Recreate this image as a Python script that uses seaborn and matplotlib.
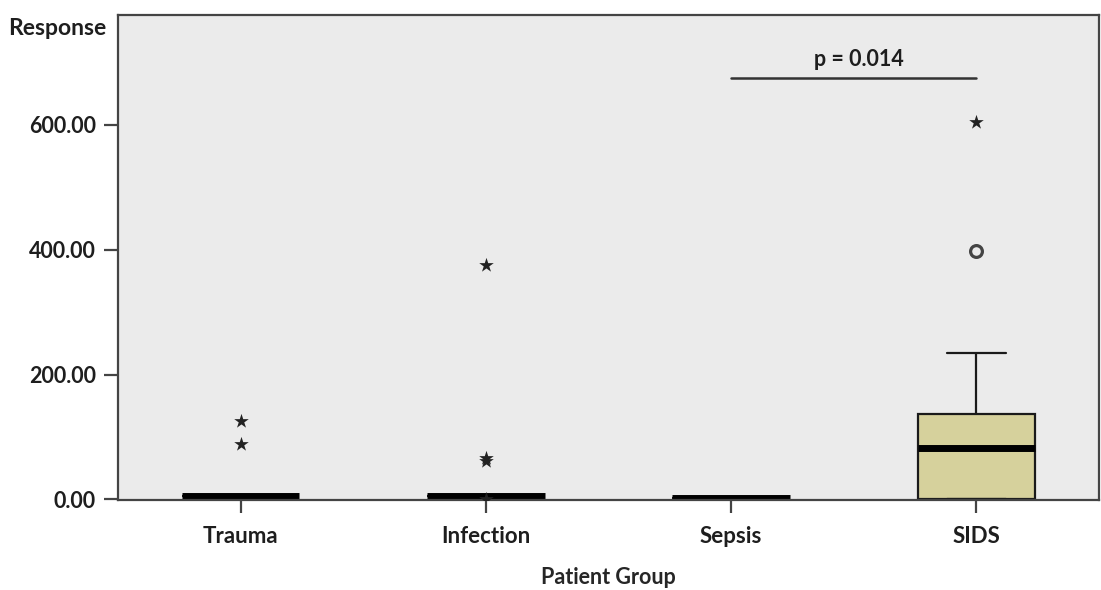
import numpy as np
import pandas as pd
import seaborn as sns
import matplotlib.pyplot as plt

# values, one list per patient group
groups = ["Trauma", "Infection", "Sepsis", "SIDS"]
trauma = [6, 6, 6, 6, 6, 6, 6, 6, 6, 6, 88, 126]
infection = [6, 6, 6, 6, 6, 6, 6, 6, 6, 6, 0, 61, 67, 376]
sepsis = [3, 3, 3, 3, 3, 3, 3, 3, 3, 3]
sids = [0, 0, 0, 0, 40, 70, 82, 100, 120, 136, 234, 398, 605]
p_text = "p = 0.014"
y_ticks = [0, 200, 400, 600]

values = {"Trauma": trauma, "Infection": infection, "Sepsis": sepsis, "SIDS": sids}
df = pd.DataFrame(
    [(g, v) for g in groups for v in values[g]], columns=["group", "value"]
)

# SPSS style: circles beyond 1.5 IQR, stars beyond 3 IQR
rows = []
for g in groups:
    v = np.array(values[g], dtype=float)
    q1, q3 = np.percentile(v, [25, 75])
    iqr = q3 - q1
    for x in v:
        if x > q3 + 3 * iqr or x < q1 - 3 * iqr:
            rows.append((g, x, "extreme"))
        elif x > q3 + 1.5 * iqr or x < q1 - 1.5 * iqr:
            rows.append((g, x, "outlier"))
out = pd.DataFrame(rows, columns=["group", "value", "kind"])

sns.set_style("white")
plt.rcParams["font.family"] = ["Lato", "DejaVu Sans"]
plt.rcParams["font.weight"] = "bold"
plt.rcParams["text.color"] = "#1e1e1e"

fig = plt.figure(figsize=(11.01, 5.90), dpi=100)
ax = fig.add_axes([118 / 1101, 90 / 590, 981 / 1101, 485 / 590])
ax.set_facecolor("#ebebeb")

sns.boxplot(
    data=df, x="group", y="value", order=groups, ax=ax,
    width=0.48, showfliers=False, color="#d6d19c", saturation=1,
    linecolor="#1a1a1a", linewidth=1.6,
    medianprops=dict(linewidth=5, color="black"),
)

sns.stripplot(
    data=out[out["kind"] == "extreme"], x="group", y="value", order=groups,
    ax=ax, jitter=False, marker="*", size=11, color="#222222", linewidth=0,
    zorder=5,
)
sns.stripplot(
    data=out[out["kind"] == "outlier"], x="group", y="value", order=groups,
    ax=ax, jitter=False, marker="o", size=8.5, color="#ebebeb",
    edgecolor="#444444", linewidth=2.3, zorder=5,
)

# significance bar between Sepsis and SIDS
ax.plot([2, 3], [675, 675], color="#333333", lw=1.8)
ax.text(2.52, 688, p_text, ha="center", va="bottom", fontsize=15.5,
        fontweight="bold")

ax.set_xlim(-0.5, 3.5)
ax.set_ylim(-1, 776)
ax.set_yticks(y_ticks)
ax.set_yticklabels([f"{t:.2f}" for t in y_ticks])
ax.set_xlabel("Patient Group", fontsize=15.5, fontweight="bold", labelpad=14)
ax.set_ylabel("")
fig.text(0.007, 0.952, "Response", fontsize=16.5, fontweight="bold", va="center")

for s in ax.spines.values():
    s.set_visible(True)
    s.set_color("#444444")
    s.set_linewidth(1.6)
ax.tick_params(axis="y", direction="out", length=10, width=1.6, color="#444444",
               labelsize=15.5, pad=6, left=True, labelcolor="#1e1e1e")
ax.tick_params(axis="x", direction="out", length=9, width=1.6, color="#444444",
               labelsize=16, pad=10, bottom=True, labelcolor="#1e1e1e")

plt.savefig("out.png", dpi=100)
